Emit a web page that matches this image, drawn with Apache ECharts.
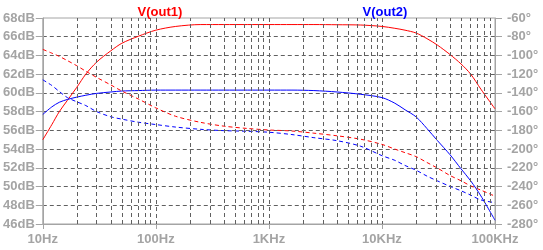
<!DOCTYPE html>
<html>
<head>
<meta charset="utf-8">
<script src="https://cdn.jsdelivr.net/npm/echarts@6/dist/echarts.min.js"></script>
<style>
html,body{margin:0;padding:0;background:#fff;}
#chart{width:543px;height:250px;}
</style>
</head>
<body>
<div id="chart"></div>
<script>
// Frequencies (Hz)
var freqs = [10, 12, 14, 16.5, 20, 24, 30, 40, 50, 70, 100, 150, 250, 400, 650, 1000, 1600, 2500, 4000, 6500, 10000, 13000, 16000, 20000, 25000, 31000, 40000, 50000, 61000, 75000, 100000];
// V(out1) magnitude (dB)
var out1Mag = [55.0, 56.6, 58.0, 59.2, 60.6, 62.0, 63.3, 64.5, 65.3, 66.05, 66.7, 67.1, 67.3, 67.3, 67.3, 67.3, 67.3, 67.3, 67.28, 67.25, 67.1, 66.9, 66.7, 66.4, 65.8, 65.1, 64.1, 63.1, 62.0, 60.4, 58.3];
// V(out1) phase (deg)
var out1Phase = [-93.5, -97.5, -101, -105.5, -111, -116.8, -123.5, -131.5, -138, -146.5, -156, -165, -171.5, -175.5, -178, -179.6, -180.7, -183, -185.8, -189.5, -195, -200, -203.8, -208, -214.3, -220.3, -228.2, -233.8, -239.3, -243.8, -250.3];
// V(out2) magnitude (dB)
var out2Mag = [57.7, 58.5, 59.0, 59.3, 59.55, 59.75, 59.95, 60.1, 60.2, 60.25, 60.3, 60.3, 60.3, 60.3, 60.3, 60.3, 60.3, 60.25, 60.1, 59.85, 59.5, 58.9, 58.2, 57.45, 56.2, 54.9, 53.4, 51.9, 50.6, 49.0, 46.4];
// V(out2) phase (deg)
var out2Phase = [-126, -132, -138.5, -145, -149.5, -153.5, -160, -165.5, -168, -171.3, -173.8, -176.5, -178.9, -180.3, -181, -182, -184.5, -187.8, -191, -197, -207, -212, -217.5, -222.5, -228.8, -234, -239.8, -244.5, -249.2, -254.3, -257.2];
// Minor vertical grid frequencies
var minorGridFreqs = [20,30,40,50,60,70,80,90,200,300,400,500,600,700,800,900,2000,3000,4000,5000,6000,7000,8000,9000,20000,30000,40000,50000,60000,70000,80000,90000];
// X tick labels
var xTickLabels = {10:'10Hz', 100:'100Hz', 1000:'1KHz', 10000:'10KHz', 100000:'100KHz'};
var seriesNames = ['V(out1)', 'V(out2)'];

function pairs(xs, ys){ return xs.map(function(x,i){ return [x, ys[i]]; }); }

var gridColor = '#606060';
var axisColor = '#a4a4a4';
var labelFont = {color: axisColor, fontSize: 13, fontWeight: 'bold', fontFamily: 'Liberation Sans, Arial, sans-serif'};

var chart = echarts.init(document.getElementById('chart'), null, {renderer: 'canvas'});
chart.setOption({
  animation: false,
  backgroundColor: '#ffffff',
  title: [
    {text: seriesNames[0], left: 155, top: 1, textAlign: 'center', textStyle: {color: '#ff0000', fontSize: 13, fontWeight: 'bold', fontFamily: 'Liberation Sans, Arial, sans-serif'}},
    {text: seriesNames[1], left: 380, top: 1, textAlign: 'center', textStyle: {color: '#0000ff', fontSize: 13, fontWeight: 'bold', fontFamily: 'Liberation Sans, Arial, sans-serif'}}
  ],
  grid: {left: 41, right: 48, top: 18, bottom: 26, show: true, borderColor: axisColor, borderWidth: 1, containLabel: false},
  xAxis: {
    type: 'log', logBase: 10, min: 10, max: 100000,
    axisLine: {show: true, lineStyle: {color: axisColor, width: 1}},
    axisTick: {show: true, length: 5, lineStyle: {color: axisColor}},
    axisLabel: Object.assign({margin: 9, formatter: function(v){ return xTickLabels[Math.round(v)] || ''; }}, labelFont),
    splitLine: {show: true, showMinLine: false, showMaxLine: false, lineStyle: {color: gridColor, type: [4,3], width: 1}},
    minorTick: {show: false}, minorSplitLine: {show: false}
  },
  yAxis: [
    {
      type: 'value', position: 'left', min: 46, max: 68, interval: 2,
      axisLine: {show: true, lineStyle: {color: axisColor}},
      axisTick: {show: true, length: 7, lineStyle: {color: axisColor}},
      axisLabel: Object.assign({margin: 8, formatter: '{value}dB'}, labelFont),
      splitLine: {show: true, showMinLine: false, showMaxLine: false, lineStyle: {color: gridColor, type: [4,3], width: 1}}
    },
    {
      type: 'value', position: 'right', min: -280, max: -60, interval: 20,
      axisLine: {show: true, lineStyle: {color: axisColor}},
      axisTick: {show: true, length: 7, lineStyle: {color: axisColor}},
      axisLabel: Object.assign({margin: 12, formatter: '{value}°'}, labelFont),
      splitLine: {show: false}
    }
  ],
  series: [
    {
      type: 'line', name: 'grid', data: [], z: 1, silent: true,
      markLine: {
        silent: true, symbol: ['none','none'], label: {show: false}, animation: false,
        lineStyle: {color: gridColor, type: [4,3], width: 1},
        data: minorGridFreqs.map(function(f){ return {xAxis: f}; })
      }
    },
    {type: 'line', name: seriesNames[0], yAxisIndex: 0, data: pairs(freqs, out1Mag), smooth: 0.3, showSymbol: false, z: 3,
     lineStyle: {color: '#ff0000', width: 1}},
    {type: 'line', name: seriesNames[1], yAxisIndex: 0, data: pairs(freqs, out2Mag), smooth: 0.3, showSymbol: false, z: 3,
     lineStyle: {color: '#0000ff', width: 1}},
    {type: 'line', name: seriesNames[0] + ' phase', yAxisIndex: 1, data: pairs(freqs, out1Phase), smooth: 0.3, showSymbol: false, z: 3,
     lineStyle: {color: '#ff0000', width: 1, type: [4,3]}},
    {type: 'line', name: seriesNames[1] + ' phase', yAxisIndex: 1, data: pairs(freqs, out2Phase), smooth: 0.3, showSymbol: false, z: 3,
     lineStyle: {color: '#0000ff', width: 1, type: [4,3]}}
  ]
});
</script>
</body>
</html>
